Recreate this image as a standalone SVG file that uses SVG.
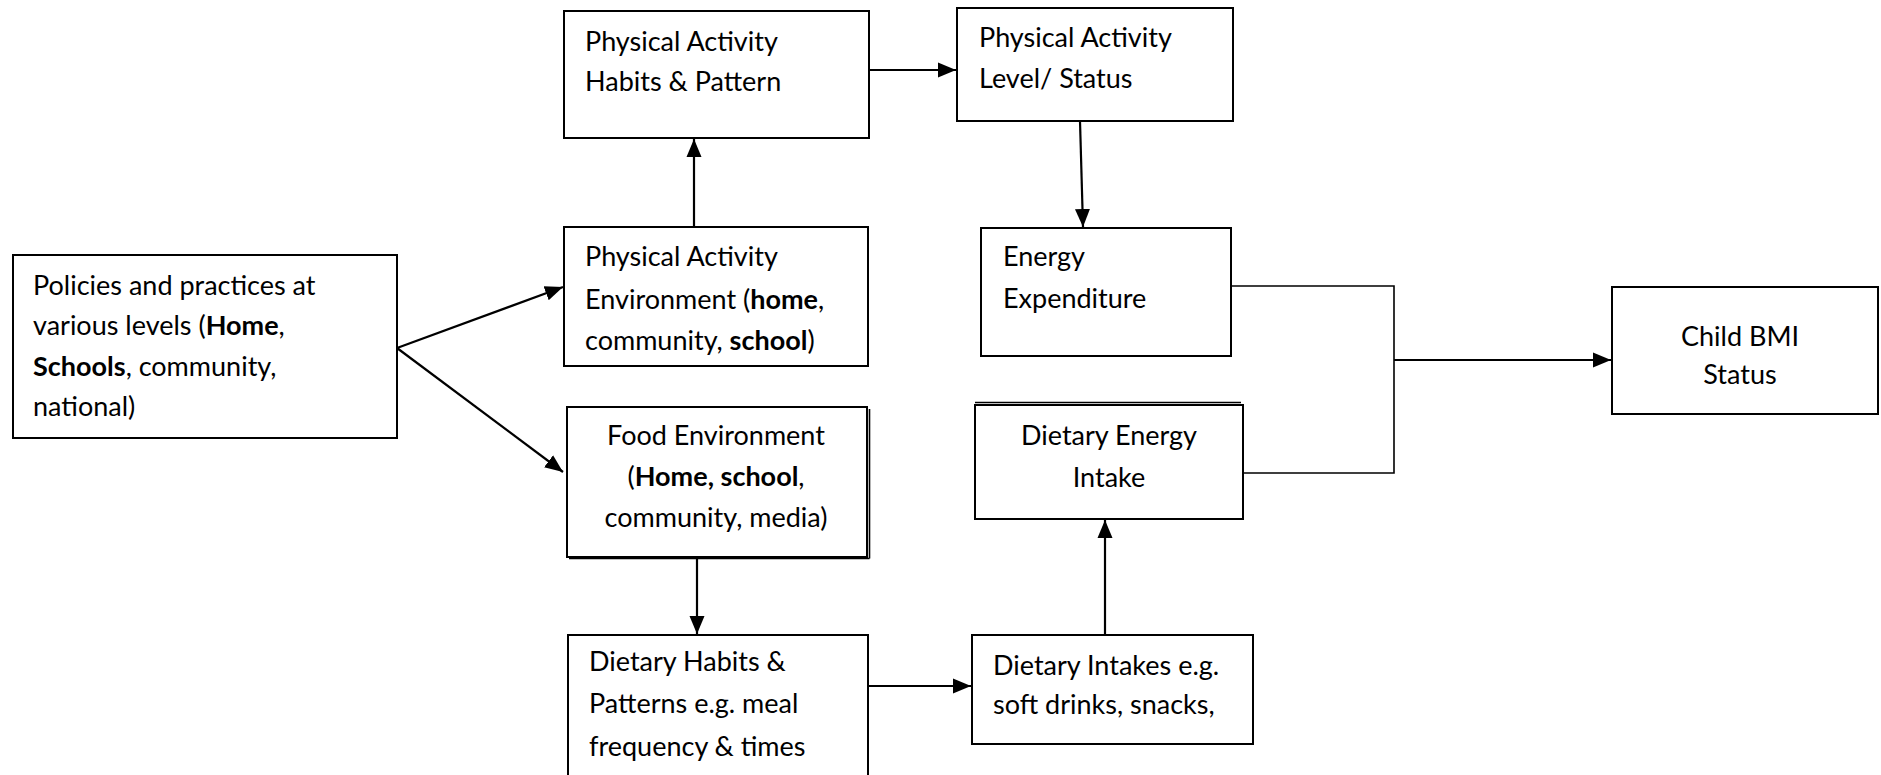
<svg xmlns="http://www.w3.org/2000/svg" width="1881" height="775" viewBox="0 0 1881 775">
<defs>
<style>
.box{fill:#fff;stroke:#000;stroke-width:2}
.t{font-family:Lato,"Liberation Sans",sans-serif;font-size:27px;fill:#000}
.c{text-anchor:middle}
.b{font-weight:bold}
.con{fill:none;stroke:#000;stroke-width:2.2}
.thin{fill:none;stroke:#000;stroke-width:1.6}
</style>
<marker id="arr" markerUnits="userSpaceOnUse" markerWidth="19" markerHeight="17" viewBox="0 0 19 17" refX="18" refY="8.5" orient="auto">
<path d="M0,1 L18,8.5 L0,16 Z" fill="#000"/>
</marker>
</defs>
<rect width="1881" height="775" fill="#fff"/>

<g id="connectors">
<line class="con" x1="397" y1="348" x2="563" y2="287" marker-end="url(#arr)"/>
<line class="con" x1="397" y1="348" x2="563" y2="472" marker-end="url(#arr)"/>
<line class="con" x1="694" y1="227" x2="694" y2="139" marker-end="url(#arr)"/>
<line class="con" x1="869" y1="70" x2="956" y2="70" marker-end="url(#arr)"/>
<line class="con" x1="1080" y1="121" x2="1083" y2="227" marker-end="url(#arr)"/>
<line class="con" x1="697" y1="557" x2="697" y2="634" marker-end="url(#arr)"/>
<line class="con" x1="868" y1="686" x2="971" y2="686" marker-end="url(#arr)"/>
<line class="con" x1="1105" y1="635" x2="1105" y2="520" marker-end="url(#arr)"/>
<polyline class="thin" points="1231,286 1394,286 1394,473 1243,473"/>
<line class="con" x1="1394" y1="360" x2="1611" y2="360" marker-end="url(#arr)"/>
</g>

<g id="policies">
<rect class="box" x="13" y="255" width="384" height="183"/>
<text class="t" x="33" y="295">Policies and practices at</text>
<text class="t" x="33" y="335">various levels (<tspan class="b">Home</tspan>,</text>
<text class="t" x="33" y="376"><tspan class="b">Schools</tspan>, community,</text>
<text class="t" x="33" y="416">national)</text>
</g>

<g id="pa-habits">
<rect class="box" x="564" y="11" width="305" height="127"/>
<text class="t" x="585" y="51">Physical Activity</text>
<text class="t" x="585" y="91">Habits &amp; Pattern</text>
</g>

<g id="pa-level">
<rect class="box" x="957" y="8" width="276" height="113"/>
<text class="t" x="979" y="47">Physical Activity</text>
<text class="t" x="979" y="88">Level/ Status</text>
</g>

<g id="pa-environment">
<rect class="box" x="564" y="227" width="304" height="139"/>
<text class="t" x="585" y="266">Physical Activity</text>
<text class="t" x="585" y="309">Environment (<tspan class="b">home</tspan>,</text>
<text class="t" x="585" y="350">community, <tspan class="b">school</tspan>)</text>
</g>

<g id="energy-expenditure">
<rect class="box" x="981" y="228" width="250" height="128"/>
<text class="t" x="1003" y="266">Energy</text>
<text class="t" x="1003" y="308">Expenditure</text>
</g>

<g id="food-environment">
<rect class="box" x="567" y="407" width="300" height="150"/>
<line class="thin" x1="869.5" y1="409" x2="869.5" y2="558.5"/>
<line class="thin" x1="569" y1="558.5" x2="869.5" y2="558.5"/>
<text class="t c" x="716" y="445">Food Environment</text>
<text class="t c" x="716" y="486">(<tspan class="b">Home, school</tspan>,</text>
<text class="t c" x="716" y="527">community, media)</text>
</g>

<g id="dietary-energy-intake">
<rect class="box" x="975" y="405" width="268" height="114"/>
<line class="thin" x1="975" y1="402.5" x2="1241" y2="402.5"/>
<text class="t c" x="1109" y="445">Dietary Energy</text>
<text class="t c" x="1109" y="487">Intake</text>
</g>

<g id="dietary-habits">
<rect class="box" x="568" y="635" width="300" height="160"/>
<text class="t" x="589" y="671">Dietary Habits &amp;</text>
<text class="t" x="589" y="713">Patterns e.g. meal</text>
<text class="t" x="589" y="756">frequency &amp; times</text>
</g>

<g id="dietary-intakes">
<rect class="box" x="972" y="635" width="281" height="109"/>
<text class="t" x="993" y="675">Dietary Intakes e.g.</text>
<text class="t" x="993" y="714">soft drinks, snacks,</text>
</g>

<g id="child-bmi">
<rect class="box" x="1612" y="287" width="266" height="127"/>
<text class="t c" x="1740" y="346">Child BMI</text>
<text class="t c" x="1740" y="384">Status</text>
</g>
</svg>
